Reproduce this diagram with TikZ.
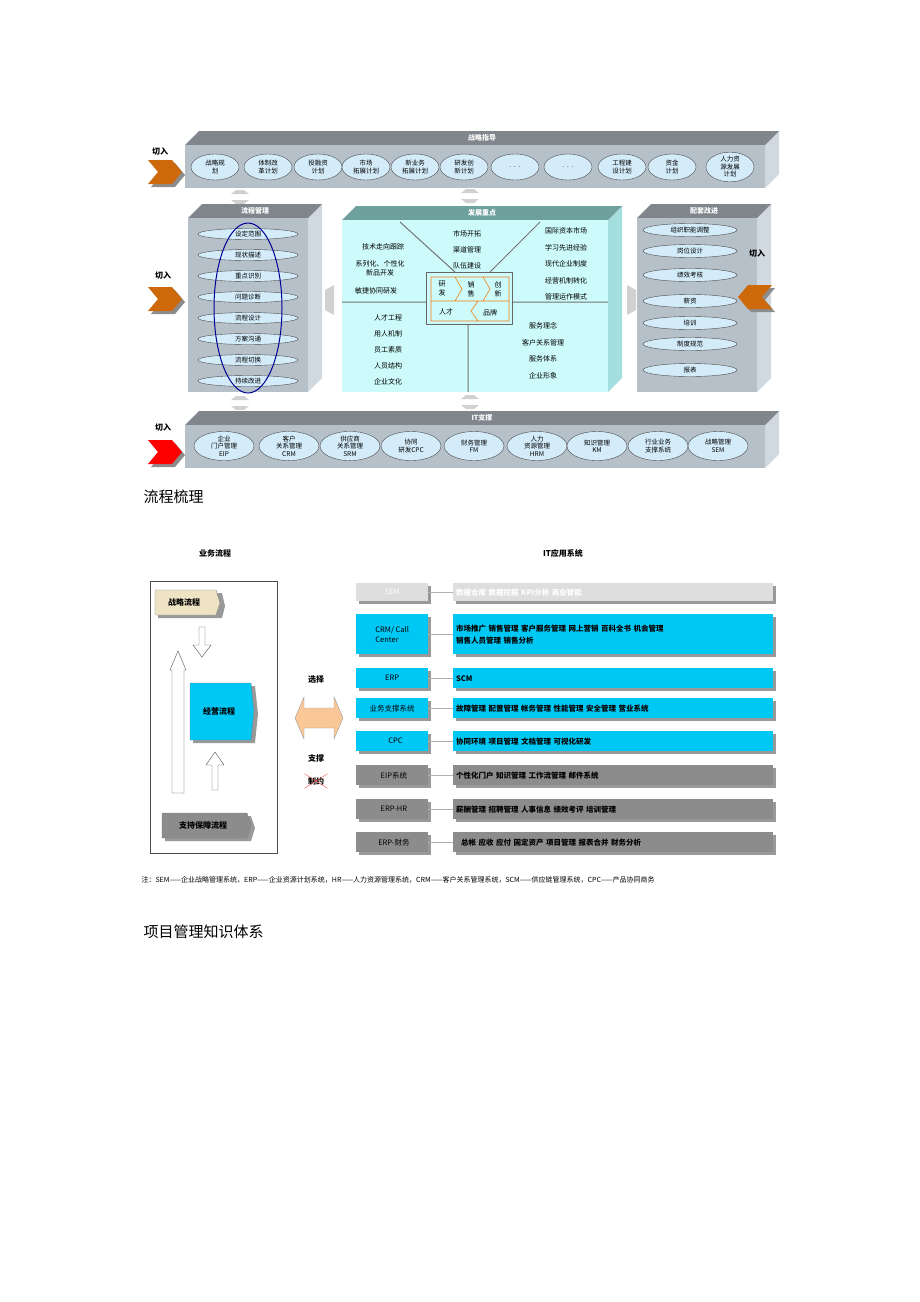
\documentclass[tikz,border=0pt]{standalone}
\usepackage{fontspec}
\setmainfont{Noto Sans CJK SC}
\usetikzlibrary{shapes.geometric}
\definecolor{bfront}{RGB}{182,192,200}
\definecolor{btop}{RGB}{128,134,140}
\definecolor{bside}{RGB}{208,216,224}
\definecolor{cfront}{RGB}{205,250,250}
\definecolor{ctop}{RGB}{110,160,158}
\definecolor{cside}{RGB}{165,222,222}
\definecolor{ell}{RGB}{212,236,250}
\definecolor{chev}{RGB}{205,105,10}
\definecolor{sky}{RGB}{0,200,245}
\definecolor{rowgray}{RGB}{140,140,140}
\definecolor{litgray}{RGB}{222,222,222}
\definecolor{beige}{RGB}{238,228,195}
\definecolor{peach}{RGB}{250,200,150}

% 3d block: x1,y1,x2,y2,colour prefix,title
\newcommand\blockbox[6]{%
  \fill[#5side] (#3,#2) -- ({#3+14},{#2-14}) -- ({#3+14},{#4-14}) -- (#3,#4) -- cycle;
  \fill[#5top] (#1,#2) -- ({#1+14},{#2-14}) -- ({#3+14},{#2-14}) -- (#3,#2) -- cycle;
  \fill[#5front] (#1,#2) rectangle (#3,#4);
  \node[ttl] at ({(#1+#3)/2+7},{#2-7}) {#6};}
% chevron: left top x,y, colour, direction
\newcommand\chevron[3]{%
  \fill[black!45] ({#1+3},{#2+3}) -- ++(24,0) -- ++(10,12) -- ++(-10,12) -- ++(-24,0) -- ++(10,-12) -- cycle;
  \fill[#3] (#1,#2) -- ++(24,0) -- ++(10,12) -- ++(-10,12) -- ++(-24,0) -- ++(10,-12) -- cycle;}
\newcommand\vdarrow[2]{%
  \fill[black!18] ({#1-4},{#2-7}) -- ({#1-9},{#2-3}) -- ({#1+9},{#2-3}) -- ({#1+4},{#2-7}) -- cycle;
  \fill[black!18] ({#1-4},{#2+7}) -- ({#1-9},{#2+3}) -- ({#1+9},{#2+3}) -- ({#1+4},{#2+7}) -- cycle;}

\begin{document}
\begin{tikzpicture}[x=1pt,y=-1pt,
    ttl/.style={font=\fontsize{7}{7}\selectfont\bfseries\itshape, text=white},
    el/.style={ellipse, draw=black!70, fill=ell, inner sep=0pt, align=center,
        font=\fontsize{6.5}{7.5}\selectfont, minimum height=26pt},
    pl/.style={el, minimum width=58pt, minimum height=13pt},
    txt/.style={font=\fontsize{7}{9}\selectfont, align=center},
    cut/.style={font=\fontsize{8}{8}\selectfont\bfseries},
    lbox/.style={draw=none, minimum width=72pt, minimum height=20pt, inner sep=2pt,
        font=\fontsize{7.5}{10}\selectfont, anchor=north west, align=left},
    rbox/.style={lbox, minimum width=320pt, text width=314pt},
    shd/.style={fill=black!40},
    big/.style={font=\fontsize{15}{15}\selectfont}
]
\useasboundingbox (0,0) rectangle (920,1302);

% ---- strategy band
\blockbox{185}{145}{765}{188}{b}{战略指导}
\foreach \x/\t [count=\i] in {215/战略规\\划, 268/体制改\\革计划, 318/投融资\\计划,
    366/市场\\拓展计划, 415/新业务\\拓展计划, 464/研发创\\新计划, 515/{.\ \ .\ \ .},
    568/{.\ \ .\ \ .}, 622/工程建\\设计划, 672/资金\\计划, 730/人力资\\源发展\\计划}
  \node[el, minimum width=48pt] (s\i) at (\x,167) {\t};
\node[cut] (c1) at (160,151) {切入};
\chevron{148}{160}{chev}

% ---- arrows between blocks
\vdarrow{240}{197}
\vdarrow{470}{196}
\vdarrow{240}{403}
\vdarrow{470}{402}
\fill[black!18] (325,290) -- (334,285) -- (334,315) -- (325,310) -- cycle;
\fill[black!18] (636,290) -- (627,285) -- (627,315) -- (636,310) -- cycle;

% ---- process block
\blockbox{188}{218}{308}{392}{b}{流程管理}
\foreach \t [count=\i] in {设定范围,现状描述,重点识别,问题诊断,流程设计,方案沟通,流程切换,持续改进}
  \node[el, minimum width=100pt, minimum height=11pt] (p\i) at (248,{213+21*\i}) {\t};
\draw[blue!60!black, line width=1pt] (248,308) ellipse (34 and 85);
\node[cut] (c2) at (163,275) {切入};
\chevron{148}{287}{chev}

% ---- focus block
\blockbox{342}{220}{608}{392}{c}{发展重点}
\draw[black!55, line width=1pt] (400,222) -- (455,272) (540,222) -- (490,272)
   (342,302) -- (608,302) (468,324) -- (468,392);
\node[draw=black!60, fill=cfront, minimum width=86pt, minimum height=52pt] (core) at (469,298) {};
\draw[orange!80!brown, line width=0.6pt] (431,277) rectangle (509,301) (431,301) rectangle (509,321)
  (455,277) -- (462,289) -- (455,301) (483,277) -- (490,289) -- (483,301)
  (478,301) -- (471,311) -- (478,321);
\node[txt] (k1) at (442,289) {研\\发};
\node[txt] (k2) at (471,289) {销\\售};
\node[txt] (k3) at (498,289) {创\\新};
\node[txt] (k4) at (446,312) {人才};
\node[txt] (k5) at (490,313) {品牌};
\node[txt] (f1) at (383,247) {技术走向跟踪};
\node[txt] (f2) at (380,268) {系列化、个性化\\新品开发};
\node[txt] (f3) at (376,291) {敏捷协同研发};
\foreach \t [count=\i] in {市场开拓,渠道管理,队伍建设}
  \node[txt] (m\i) at (467,{218+16*\i}) {\t};
\foreach \t [count=\i] in {国际资本市场,学习先进经验,现代企业制度,经营机制转化,管理运作模式}
  \node[txt] (r\i) at (566,{214.5+16.5*\i}) {\t};
\foreach \t [count=\i] in {人才工程,用人机制,员工素质,人员结构,企业文化}
  \node[txt] (h\i) at (388,{302+16*\i}) {\t};
\foreach \t [count=\i] in {服务理念,客户关系管理,服务体系,企业形象}
  \node[txt] (v\i) at (543,{309.5+16.5*\i}) {\t};

% ---- support block
\blockbox{637}{218}{757}{392}{b}{配套改进}
\foreach \y/\t [count=\i] in {230/组织职能调整,251/岗位设计,275/绩效考核,301/薪资/奖惩,323/培训,344/制度规范,370/报表}
  \node[el, minimum width=94pt, minimum height=13pt] (g\i) at (690,\y) {\t};
\node[cut] (c3) at (757,253) {切入};
\fill[black!45] (775,288) -- (751,288) -- (741,300) -- (751,312) -- (775,312) -- (765,300) -- cycle;
\fill[chev] (772,285) -- (748,285) -- (738,297) -- (748,309) -- (772,309) -- (762,297) -- cycle;

% ---- IT band
\blockbox{185}{425}{765}{468}{b}{IT支撑}
\foreach \x/\t [count=\i] in {224/企业\\门户管理\\EIP, 289/客户\\关系管理\\CRM, 350/供应商\\关系管理\\SRM,
    411/协同\\研发CPC, 474/财务管理\\FM, 537/人力\\资源管理\\HRM, 597/知识管理\\KM,
    658/行业业务\\支撑系统, 718/战略管理\\SEM}
  \node[el, minimum width=60pt, minimum height=29pt] (i\i) at (\x,446) {\t};
\node[cut] (c4) at (163,427) {切入};
\chevron{148}{440}{red}

\node[big, anchor=west] (h1) at (140,497) {流程梳理};

% ---- second figure
\node[font=\fontsize{8}{8}\selectfont\bfseries] (bp) at (215,553) {业务流程};
\node[font=\fontsize{8}{8}\selectfont\bfseries] (it) at (563,553) {IT应用系统};
\draw[black!70] (150,581) rectangle (277,853);
\fill[shd] (158,593) -- (222,593) -- (225,606) -- (222,618) -- (158,618) -- cycle;
\fill[beige, draw=black!50] (155,590) -- (216,590) -- (220,603) -- (216,615) -- (155,615) -- cycle;
\node[font=\fontsize{8}{8}\selectfont\bfseries] (zl) at (184,602) {战略流程};
\fill[shd] (193,686) -- (255,686) -- (258,714) -- (255,743) -- (193,743) -- cycle;
\fill[sky, draw=black!50] (190,683) -- (251,683) -- (254,711) -- (251,740) -- (190,740) -- cycle;
\node[font=\fontsize{8}{8}\selectfont\bfseries] (jy) at (219,711) {经营流程};
\fill[shd] (165,816) -- (251,816) -- (255,828) -- (251,841) -- (165,841) -- cycle;
\fill[rowgray, draw=black!50] (162,813) -- (247,813) -- (251,825) -- (247,838) -- (162,838) -- cycle;
\node[font=\fontsize{8}{8}\selectfont\bfseries] (zc) at (203,825) {支持保障流程};
\draw[black!70, fill=white] (199,627) -- (205,627) -- (205,645) -- (211,645) -- (202,657) -- (193,645) -- (199,645) -- cycle;
\draw[black!70, fill=white] (172,793) -- (184,793) -- (184,670) -- (186,670) -- (178,651) -- (170,670) -- (172,670) -- cycle;
\draw[black!70, fill=white] (212,790) -- (218,790) -- (218,765) -- (224,765) -- (215,752) -- (206,765) -- (212,765) -- cycle;

\node[font=\fontsize{8}{8}\selectfont\bfseries] (xz) at (316,680) {选择};
\draw[black!40, fill=peach] (295,718) -- (304,697) -- (304,708) -- (334,708) -- (334,697) -- (343,718)
   -- (334,739) -- (334,728) -- (304,728) -- (304,739) -- cycle;
\node[font=\fontsize{8}{8}\selectfont\bfseries] (zcx) at (316,758) {支撑};
\node[font=\fontsize{8}{8}\selectfont\bfseries] (zy) at (316,781) {制约};
\draw[red!70] (zy.north west) -- (zy.south east) (zy.south west) -- (zy.north east);

\foreach \y/\h/\c/\tc/\a/\b [count=\i] in {
  583/18/litgray/white/SEM/数据仓库 数据挖掘 KPI分析 商业智能,
  614/40/sky/black/{CRM/ Call\\Center}/{市场推广 销售管理 客户服务管理 网上营销 百科全书 机会管理\\销售人员管理 销售分析},
  668/20/sky/black/ERP/SCM/销售订单管理 供应链计划 采购管理 库存管理,
  698/20/sky/black/业务支撑系统/故障管理 配置管理 帐务管理 性能管理 安全管理 营业系统,
  731/20/sky/black/\ \ \ \ CPC/协同环境 项目管理 文档管理 可视化研发,
  765/20/rowgray/black/\ \ EIP系统/个性化门户 知识管理 工作流管理 邮件系统,
  799/20/rowgray/black/\ \ ERP-HR/薪酬管理 招聘管理 人事信息 绩效考评 培训管理,
  832/20/rowgray/black/\ \ ERP-财务/\ \ 总帐 应收 应付 固定资产 项目管理 报表合并 财务分析}
{
  \fill[shd] (359,{\y+3}) rectangle (431,{\y+\h+3});
  \fill[shd] (456,{\y+3}) rectangle (776,{\y+\h+3});
  \node[lbox, fill=\c, text=\tc, minimum height=\h pt] (a\i) at (356,\y) {\a};
  \node[rbox, fill=\c, text=\tc, minimum height=\h pt, font=\fontsize{7.5}{12}\selectfont\bfseries] (b\i) at (453,\y) {\b};
  \draw[black!30] (a\i.east) -- (b\i.west);
}

\node[font=\fontsize{7}{12}\selectfont, anchor=north west, text width=640pt, align=left] (note) at (138,873)
  {注：SEM——企业战略管理系统，ERP——企业资源计划系统，HR——人力资源管理系统，CRM——客户关系管理系统，SCM——供应链管理系统，CPC——产品协同商务};
\node[big, anchor=west] (h2) at (140,932) {项目管理知识体系};
\end{tikzpicture}
\end{document}
